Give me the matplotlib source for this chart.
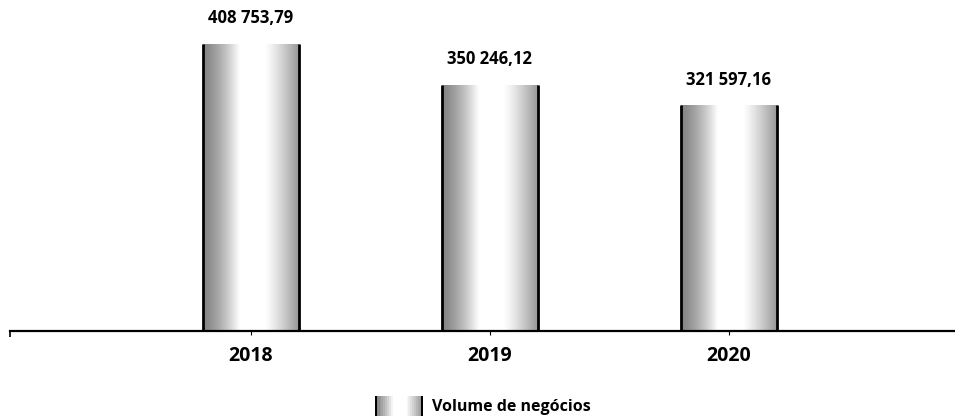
import numpy as np
import matplotlib
matplotlib.use('Agg')
import matplotlib.pyplot as plt
from matplotlib.patches import Rectangle
from matplotlib.legend_handler import HandlerBase

years = ['2018', '2019', '2020']
volume = [408753.79, 350246.12, 321597.16]
value_labels = ['408 753,79', '350 246,12', '321 597,16']
legend_label = 'Volume de negócios'

plt.rcParams['font.family'] = ['Open Sans', 'DejaVu Sans']


def shade(f):
    # cylinder-like grey profile across the bar width (0 = left, 1 = right)
    f = np.asarray(f, dtype=float)
    g = np.ones_like(f)
    left = f < 0.38
    g[left] = 0.52 + 0.48 * (f[left] / 0.38) ** 1.4
    right = f > 0.64
    g[right] = 1.0 - 0.42 * ((f[right] - 0.64) / 0.36) ** 1.2
    return g


class GradientHandler(HandlerBase):
    def create_artists(self, legend, orig_handle, xdescent, ydescent,
                       width, height, fontsize, trans):
        n = 24
        fs = (np.arange(n) + 0.5) / n
        arts = []
        for i, f in enumerate(fs):
            g = float(shade([f])[0])
            r = Rectangle((-xdescent + i * width / n, -ydescent - 2), width / n, height + 4,
                          facecolor=(g, g, g), edgecolor='none', transform=trans)
            arts.append(r)
        for xe in (-xdescent, -xdescent + width):
            r = Rectangle((xe - 0.7, -ydescent - 2), 1.4, height + 4,
                          facecolor='black', edgecolor='none', transform=trans)
            arts.append(r)
        return arts


fig = plt.figure(figsize=(9.55, 4.19), dpi=100)
ax = fig.add_axes([10 / 955, 88 / 419, 945 / 955, 331 / 419])

x = np.arange(len(years))
width = 0.402
bars = ax.bar(x, volume, width, facecolor='none', edgecolor='none', zorder=3)

grad = shade(np.linspace(0, 1, 200))[None, :].repeat(2, axis=0)
for rect in bars:
    x0 = rect.get_x()
    w = rect.get_width()
    h = rect.get_height()
    im = ax.imshow(grad, cmap='gray', vmin=0, vmax=1, aspect='auto',
                   extent=(x0, x0 + w, 0, h), interpolation='bilinear', zorder=2)
    im.set_clip_path(rect)
    # dark side edges only, no top outline
    ax.vlines([x0, x0 + w], 0, h, colors='black', linewidth=2.0, zorder=3)

for xi, v, lab in zip(x, volume, value_labels):
    ax.annotate(lab, xy=(xi, v), xytext=(0, 12), textcoords='offset points',
                ha='center', va='bottom', fontsize=12, fontweight='bold')

ax.set_xlim(-1.008, 2.946)
ax.set_ylim(0, 408753.79 * 331 / 287)

for s in ['top', 'right', 'left']:
    ax.spines[s].set_visible(False)
ax.spines['bottom'].set_linewidth(1.6)
ax.spines['bottom'].set_zorder(4)
ax.set_yticks([])
ax.set_xticks(x)
ax.set_xticklabels(years, fontsize=14, fontweight='bold')
ax.tick_params(axis='x', length=3, width=0.8, pad=8)
ax.set_xticks([-1.008], minor=True)
ax.tick_params(axis='x', which='minor', length=4, width=1.2)

handle = Rectangle((0, 0), 1, 1)
fig.legend([handle], [legend_label], handler_map={Rectangle: GradientHandler()},
           loc='center', bbox_to_anchor=(483 / 955, 1 - 407 / 419), frameon=False,
           prop={'weight': 'bold', 'size': 11.5}, handlelength=2.9, handleheight=1.0,
           handletextpad=0.6)

fig.savefig('out.png', dpi=100)
